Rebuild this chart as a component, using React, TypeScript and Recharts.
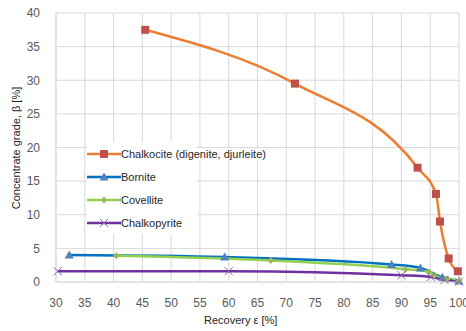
import React from "react";
import { CartesianGrid, Line, LineChart, XAxis, YAxis } from "recharts";

const chalkociteX = [45.5, 71.5, 92.8, 96.0, 96.7, 98.2, 99.8];
const chalkociteY = [37.5, 29.5, 17.0, 13.1, 9.0, 3.5, 1.6];
const borniteX = [32.3, 59.3, 88.3, 93.3, 97.1, 100];
const borniteY = [4.0, 3.7, 2.6, 2.1, 0.7, 0.15];
const covelliteX = [40.5, 67.3, 90.7, 94.8, 95.7, 97.9, 100];
const covelliteY = [3.9, 3.2, 1.9, 1.5, 1.0, 0.5, 0.15];
const chalkopyriteX = [30.3, 60.0, 90.0, 95.1, 97.5, 100];
const chalkopyriteY = [1.6, 1.6, 1.0, 0.75, 0.3, 0.05];

const xTicks = [30, 35, 40, 45, 50, 55, 60, 65, 70, 75, 80, 85, 90, 95, 100];
const yTicks = [0, 5, 10, 15, 20, 25, 30, 35, 40];

const zip = (xs: number[], ys: number[]) => xs.map((x, i) => ({ x, y: ys[i] }));

const FONT = "'Liberation Sans', Arial, sans-serif";

type Kind = "square" | "triangle" | "diamond" | "cross";

const SERIES = [
  { name: "Chalkocite (digenite, djurleite)", data: zip(chalkociteX, chalkociteY), line: "#ED7D31", mark: "#C0504D", kind: "square" as Kind },
  { name: "Bornite", data: zip(borniteX, borniteY), line: "#0070C0", mark: "#4F81BD", kind: "triangle" as Kind },
  { name: "Covellite", data: zip(covelliteX, covelliteY), line: "#92D050", mark: "#9BBB59", kind: "diamond" as Kind },
  { name: "Chalkopyrite", data: zip(chalkopyriteX, chalkopyriteY), line: "#7030A0", mark: "#8064A2", kind: "cross" as Kind },
];

function Marker({ cx, cy, kind, color }: { cx: number; cy: number; kind: Kind; color: string }) {
  if (kind === "square") return <rect x={cx - 4} y={cy - 4} width={8} height={8} fill={color} />;
  if (kind === "triangle")
    return <polygon points={`${cx},${cy - 4.5} ${cx + 4.5},${cy + 3.5} ${cx - 4.5},${cy + 3.5}`} fill={color} />;
  if (kind === "diamond")
    return <polygon points={`${cx},${cy - 3.5} ${cx + 3.5},${cy} ${cx},${cy + 3.5} ${cx - 3.5},${cy}`} fill={color} />;
  return (
    <g stroke={color} strokeWidth={1}>
      <line x1={cx - 4} y1={cy - 4} x2={cx + 4} y2={cy + 4} />
      <line x1={cx - 4} y1={cy + 4} x2={cx + 4} y2={cy - 4} />
    </g>
  );
}

const dotFor = (kind: Kind, color: string) => (p: any) =>
  <Marker key={`${kind}-${p.index}`} cx={p.cx} cy={p.cy} kind={kind} color={color} />;

function LegendBox() {
  return (
    <div style={{ position: "absolute", left: 87, top: 142, fontFamily: FONT, fontSize: 11, color: "#262626", background: "#fff", width: 110 }}>
      {SERIES.map((s) => (
        <div key={s.name} style={{ display: "flex", alignItems: "center", height: 23 }}>
          <svg width={34} height={12} style={{ flex: "none" }}>
            <line x1={0} y1={6} x2={34} y2={6} stroke={s.line} strokeWidth={2.5} />
            <Marker cx={17} cy={6} kind={s.kind} color={s.mark} />
          </svg>
          <span style={{ whiteSpace: "nowrap", background: "#fff" }}>{s.name}</span>
        </div>
      ))}
    </div>
  );
}

export default function App() {
  return (
    <div style={{ position: "absolute", left: 0, top: 0, width: 466, height: 331, background: "#fff" }}>
      <LineChart width={466} height={331} margin={{ top: 13, right: 7, left: 0, bottom: 0 }}>
        <CartesianGrid stroke="#d9d9d9" />
        <XAxis
          type="number"
          dataKey="x"
          domain={[30, 100]}
          ticks={xTicks}
          interval={0}
          height={49}
          axisLine={{ stroke: "#d9d9d9" }}
          tickLine={false}
          tick={{ fill: "#595959", fontSize: 12, fontFamily: FONT }}
          tickMargin={10}
          label={{
            content: () => (
              <text x={204} y={324} fill="#262626" fontSize={11} fontFamily={FONT}>
                Recovery  ε [%]
              </text>
            ),
          }}
        />
        <YAxis
          type="number"
          dataKey="y"
          domain={[0, 40]}
          ticks={yTicks}
          interval={0}
          width={56}
          axisLine={{ stroke: "#d9d9d9" }}
          tickLine={false}
          tick={{ fill: "#595959", fontSize: 12, fontFamily: FONT }}
          tickMargin={10}
          label={{
            content: () => (
              <text x={17} y={148} transform="rotate(-90 17 148)" textAnchor="middle" dominantBaseline="middle" fill="#262626" fontSize={11} fontFamily={FONT}>
                Concentrate grade, β [%]
              </text>
            ),
          }}
        />
        {SERIES.map((s) => (
          <Line
            key={s.name}
            data={s.data}
            dataKey="y"
            name={s.name}
            type="monotone"
            stroke={s.line}
            strokeWidth={2.5}
            dot={dotFor(s.kind, s.mark)}
            activeDot={false}
            isAnimationActive={false}
          />
        ))}
      </LineChart>
      <LegendBox />
    </div>
  );
}
